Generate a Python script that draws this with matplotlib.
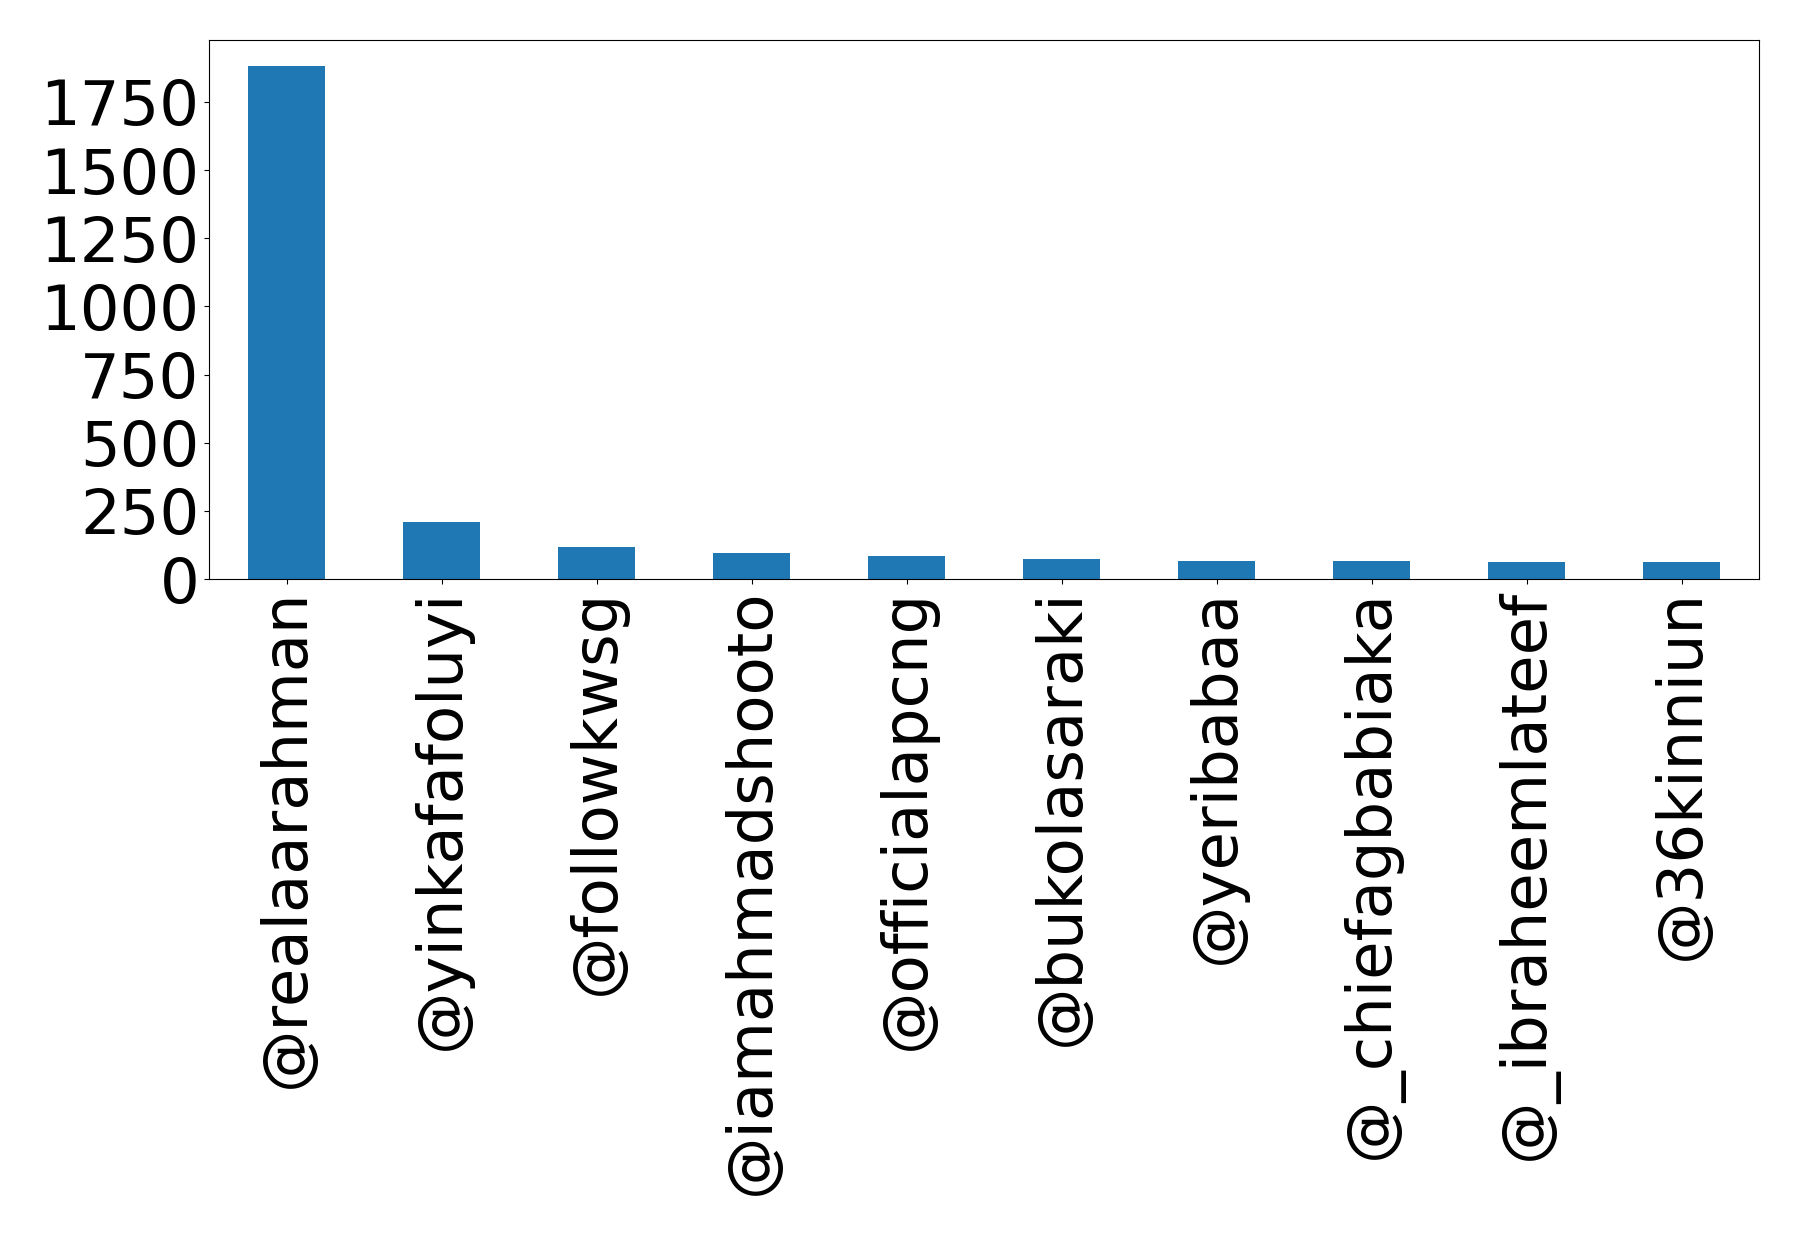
import matplotlib
matplotlib.use('Agg')
import matplotlib.pyplot as plt
import numpy as np

# mention counts per account
handles = ['@realaarahman', '@yinkafafoluyi', '@followkwsg', '@iamahmadshooto',
           '@officialapcng', '@bukolasaraki', '@yeribabaa', '@_chiefagbabiaka',
           '@_ibraheemlateef', '@36kinniun']
counts = [1883, 208, 119, 97, 85, 74, 67, 67, 63, 63]

fig = plt.figure(figsize=(17.98, 12.35), dpi=100)
ax = fig.add_axes([209 / 1798, 1 - 579 / 1235, (1759 - 209) / 1798, (579 - 40) / 1235])

x = np.arange(len(handles))
ax.bar(x, counts, width=0.5, color='#1f77b4')
ax.set_xlim(-0.5, len(handles) - 0.5)
ax.set_ylim(0, max(counts) * 1.05)
ax.set_yticks(np.arange(0, 2000, 250))
ax.set_xticks(x)
ax.set_xticklabels(handles, rotation=90)
ax.tick_params(axis='both', labelsize=45)

fig.savefig('out.png', dpi=100)
